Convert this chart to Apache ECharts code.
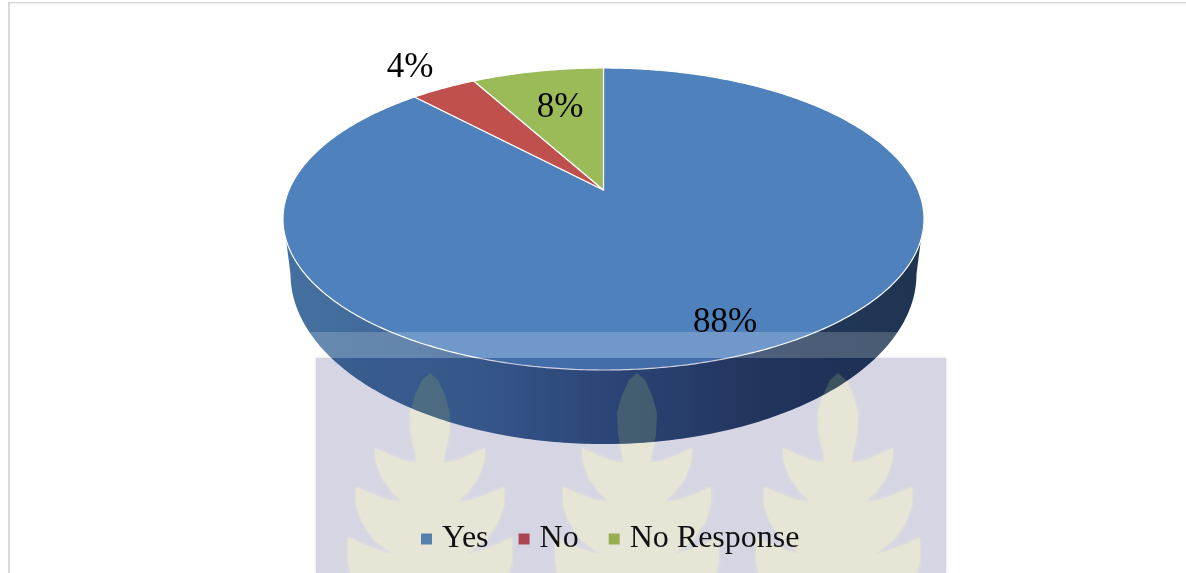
<!DOCTYPE html>
<html><head><meta charset="utf-8">
<style>html,body{margin:0;padding:0;background:#fff}#c{width:1186px;height:573px}</style>
<script src="https://cdn.jsdelivr.net/npm/echarts@6/dist/echarts.min.js"></script>
</head><body><div id="c"></div>
<script>
const categories = ['Yes', 'No', 'No Response'];
const values = [88, 4, 8];
const sliceColors = ['#4f81bd', '#c0504d', '#9bbb59'];
const legendColors = ['#5580ae', '#ab4553', '#97ad50'];

// Projected-disc geometry of the tilted pie
const disc = {cx: 603.5, cy: 219, rx: 320.5, ry: 151, apexY: 190};
const base = {cy: 274, rx: 313, ry: 170, joinY: 240};
const labelAnchors = [[725, 323], [410, 68], [560, 108]];
const leafColumns = [430, 637, 838];
const leafHalf = [[0,373],[-8,380],[-15,395],[-20,413],[-19,435],[-15,452],[-13,463],[-25,461],[-40,455],[-55,448],
  [-54,462],[-48,478],[-38,492],[-27,502],[-42,500],[-58,494],[-74,487],[-74,505],[-68,522],[-56,540],[-34,556],
  [-55,549],[-70,543],[-82,537],[-82,560],[-76,590],[0,590]];

const total = values.reduce((a, b) => a + b, 0);
const tilt = (disc.apexY - disc.cy) / disc.ry;
function rim(theta) {
  const u = Math.sin(theta), v = -Math.cos(theta), d = 1 + tilt * v;
  return [disc.cx + disc.rx * u * Math.sqrt(1 - tilt * tilt) / d, disc.cy + disc.ry * (v + tilt) / d];
}
function slicePoints(i) {
  const before = values.slice(0, i).reduce((a, b) => a + b, 0);
  const a0 = before / total * 2 * Math.PI, a1 = (before + values[i]) / total * 2 * Math.PI;
  const n = Math.max(4, Math.ceil((a1 - a0) / 0.01)), pts = [[disc.cx, disc.apexY]];
  for (let k = 0; k <= n; k++) pts.push(rim(a0 + (a1 - a0) * k / n));
  return pts;
}
function joinDx() {
  const s = (base.joinY - disc.cy) / disc.ry;
  return disc.rx * Math.sqrt(1 - s * s);
}
function wallPoints() {
  const pts = [[disc.cx - joinDx(), base.joinY]];
  for (let k = 0; k <= 200; k++) {
    const t = Math.PI - Math.PI * k / 200;
    pts.push([disc.cx + base.rx * Math.cos(t), base.cy + base.ry * Math.sin(t)]);
  }
  pts.push([disc.cx + joinDx(), base.joinY]);
  return pts;
}
function silhouette() {
  const top = [], a = Math.asin((base.joinY - disc.cy) / disc.ry);
  for (let k = 0; k <= 200; k++) {
    const t = a - (Math.PI + 2 * a) * k / 200;
    top.push([disc.cx + disc.rx * Math.cos(t), disc.cy + disc.ry * Math.sin(t)]);
  }
  return wallPoints().concat(top);
}
function leafPoints(center) {
  const left = leafHalf.map(p => [center + p[0], p[1]]);
  const right = leafHalf.slice().reverse().map(p => [center - p[0], p[1]]);
  return left.concat(right);
}

const series = [];
series.push({
  name: 'backdrop', type: 'custom', coordinateSystem: 'none', silent: true, z: 0, data: [0],
  renderItem: () => ({
    type: 'group',
    children: [
      {type: 'rect', shape: {x: 316, y: 358, width: 630, height: 215}, style: {fill: '#d5d5e3', shadowBlur: 3, shadowColor: '#d5d5e3'}},
      {type: 'rect', shape: {x: 8, y: 2, width: 1178, height: 1.5}, style: {fill: '#dadada'}},
      {type: 'rect', shape: {x: 8, y: 2, width: 1.8, height: 571}, style: {fill: '#d6d6d6'}}
    ].concat(leafColumns.map(c => ({type: 'polygon', shape: {points: leafPoints(c)}, style: {fill: '#e7e6d6', shadowBlur: 4, shadowColor: '#e7e6d6'}})))
  })
});
series.push({
  name: 'side', type: 'custom', coordinateSystem: 'none', silent: true, z: 1, data: [values[0]],
  renderItem: () => ({
    type: 'polygon', shape: {points: wallPoints()},
    style: {fill: {type: 'linear', x: 0, y: 0, x2: 1, y2: 0, colorStops: [
      {offset: 0, color: '#44709f'}, {offset: 0.3, color: '#3f6597'},
      {offset: 0.5, color: '#33507f'}, {offset: 0.75, color: '#253a5e'}, {offset: 1, color: '#1e3450'}]}}
  })
});
categories.forEach((name, i) => {
  series.push({
    name, type: 'custom', coordinateSystem: 'none', silent: true, z: 2, data: [values[i]],
    itemStyle: {color: sliceColors[i]},
    renderItem: () => ({
      type: 'polygon', shape: {points: slicePoints(i)},
      style: {fill: sliceColors[i], stroke: '#fff', lineWidth: 1.2, lineJoin: 'round'}
    })
  });
});
series.push({
  name: 'tint', type: 'custom', coordinateSystem: 'none', silent: true, z: 5, data: [0],
  renderItem: () => ({
    type: 'rect', shape: {x: 316, y: 358, width: 630, height: 215},
    style: {fill: 'rgba(20,30,90,0.2)'},
    clipPath: {type: 'polygon', shape: {points: silhouette()}}
  })
});
series.push({
  name: 'leafTint', type: 'custom', coordinateSystem: 'none', silent: true, z: 6, data: leafColumns,
  renderItem: (p, api) => ({
    type: 'polygon', shape: {points: leafPoints(api.value(0))},
    style: {fill: 'rgba(115,140,112,0.36)'},
    clipPath: {type: 'polygon', shape: {points: wallPoints()}}
  })
});
series.push({
  name: 'band', type: 'custom', coordinateSystem: 'none', silent: true, z: 10, data: [0],
  renderItem: () => ({
    type: 'rect', shape: {x: 300, y: 332, width: 646, height: 26}, style: {fill: 'rgba(255,255,255,0.19)'}
  })
});
series.push({
  name: 'labels', type: 'custom', coordinateSystem: 'none', silent: true, z: 20, data: values,
  renderItem: (p, api) => ({
    type: 'text',
    style: {
      x: labelAnchors[p.dataIndex][0], y: labelAnchors[p.dataIndex][1],
      text: api.value(0) + '%', align: 'center', verticalAlign: 'middle',
      fontFamily: '"Liberation Serif"', fontSize: 35, fill: '#000'
    }
  })
});

const chart = echarts.init(document.getElementById('c'), null, {renderer: 'canvas'});
chart.setOption({
  animation: false,
  backgroundColor: '#fff',
  legend: {
    left: 416, top: 518, itemWidth: 11, itemHeight: 11, itemGap: 30, icon: 'rect',
    selectedMode: false,
    data: categories.map((name, i) => ({name, itemStyle: {color: legendColors[i]}})),
    textStyle: {fontFamily: '"Liberation Serif"', fontSize: 32, color: '#111', padding: [0, 0, 0, 5]}
  },
  series
});
</script></body></html>
